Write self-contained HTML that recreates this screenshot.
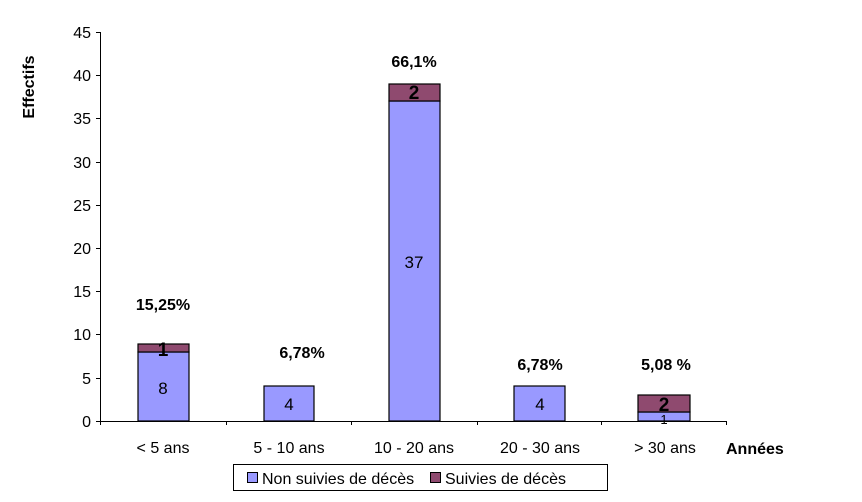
<!DOCTYPE html>
<html><head><meta charset="utf-8"><style>
body{margin:0;background:#fff;}
svg text{font-family:"Liberation Sans",Arial,sans-serif;}
</style></head><body>
<svg width="862" height="497" viewBox="0 0 862 497" xmlns="http://www.w3.org/2000/svg">
<rect width="862" height="497" fill="#fff"/>
<g stroke="#000" stroke-width="1">
<line x1="100.5" y1="32" x2="100.5" y2="421"/>
<line x1="100" y1="421.5" x2="726" y2="421.5"/>
<line x1="96" y1="32.5" x2="100" y2="32.5"/>
<line x1="96" y1="75.5" x2="100" y2="75.5"/>
<line x1="96" y1="118.5" x2="100" y2="118.5"/>
<line x1="96" y1="162.5" x2="100" y2="162.5"/>
<line x1="96" y1="205.5" x2="100" y2="205.5"/>
<line x1="96" y1="248.5" x2="100" y2="248.5"/>
<line x1="96" y1="291.5" x2="100" y2="291.5"/>
<line x1="96" y1="334.5" x2="100" y2="334.5"/>
<line x1="96" y1="378.5" x2="100" y2="378.5"/>
<line x1="96" y1="421.5" x2="100" y2="421.5"/>
<line x1="100.5" y1="421" x2="100.5" y2="425"/>
<line x1="226.5" y1="421" x2="226.5" y2="425"/>
<line x1="351.5" y1="421" x2="351.5" y2="425"/>
<line x1="477.5" y1="421" x2="477.5" y2="425"/>
<line x1="601.5" y1="421" x2="601.5" y2="425"/>
<line x1="726.5" y1="421" x2="726.5" y2="425"/>
</g>
<g font-size="16" text-anchor="end" fill="#000">
<text x="91" y="38">45</text><text x="91" y="81">40</text><text x="91" y="124">35</text>
<text x="91" y="168">30</text><text x="91" y="211">25</text><text x="91" y="254">20</text>
<text x="91" y="297">15</text><text x="91" y="340">10</text><text x="91" y="384">5</text>
<text x="91" y="427">0</text>
</g>
<g stroke="#000" stroke-width="1.2">
<rect x="138" y="352" width="51" height="69" fill="#9999ff"/>
<rect x="138" y="344" width="51" height="8" fill="#8f4a6f"/>
<rect x="264" y="386" width="50" height="35" fill="#9999ff"/>
<rect x="389" y="101" width="51" height="320" fill="#9999ff"/>
<rect x="389" y="84" width="51" height="17" fill="#8f4a6f"/>
<rect x="514" y="386" width="51" height="35" fill="#9999ff"/>
<rect x="638" y="412" width="52" height="9" fill="#9999ff"/>
<rect x="638" y="395" width="52" height="17" fill="#8f4a6f"/>
</g>
<g font-size="17" text-anchor="middle" fill="#000">
<text x="163" y="394">8</text>
<text x="289" y="410">4</text>
<text x="414" y="268">37</text>
<text x="540" y="410">4</text>
<text x="664" y="424" font-size="13">1</text>
</g>
<g font-size="19" font-weight="bold" text-anchor="middle" fill="#000">
<text x="163" y="356">1</text>
<text x="414" y="99">2</text>
<text x="664" y="411">2</text>
</g>
<g font-size="16" font-weight="bold" text-anchor="middle" fill="#000">
<text x="163" y="310">15,25%</text>
<text x="302" y="358">6,78%</text>
<text x="414" y="67">66,1%</text>
<text x="540" y="370">6,78%</text>
<text x="666" y="370">5,08 %</text>
</g>
<g font-size="16" text-anchor="middle" fill="#000">
<text x="163" y="453">&lt; 5 ans</text>
<text x="289" y="453">5 - 10 ans</text>
<text x="414" y="453">10 - 20 ans</text>
<text x="540" y="453">20 - 30 ans</text>
<text x="665" y="453">&gt; 30 ans</text>
</g>
<text x="726" y="454" font-size="16" font-weight="bold">Années</text>
<text transform="translate(34,87) rotate(-90)" font-size="16" font-weight="bold" text-anchor="middle">Effectifs</text>
<rect x="233.5" y="464.5" width="374" height="26" fill="#fff" stroke="#000"/>
<rect x="247.5" y="472.5" width="10" height="10" fill="#9999ff" stroke="#000"/>
<text x="262" y="484" font-size="16">Non suivies de décès</text>
<rect x="430.5" y="472.5" width="10" height="10" fill="#8f4a6f" stroke="#000"/>
<text x="445" y="484" font-size="16">Suivies de décès</text>
</svg>
</body></html>
